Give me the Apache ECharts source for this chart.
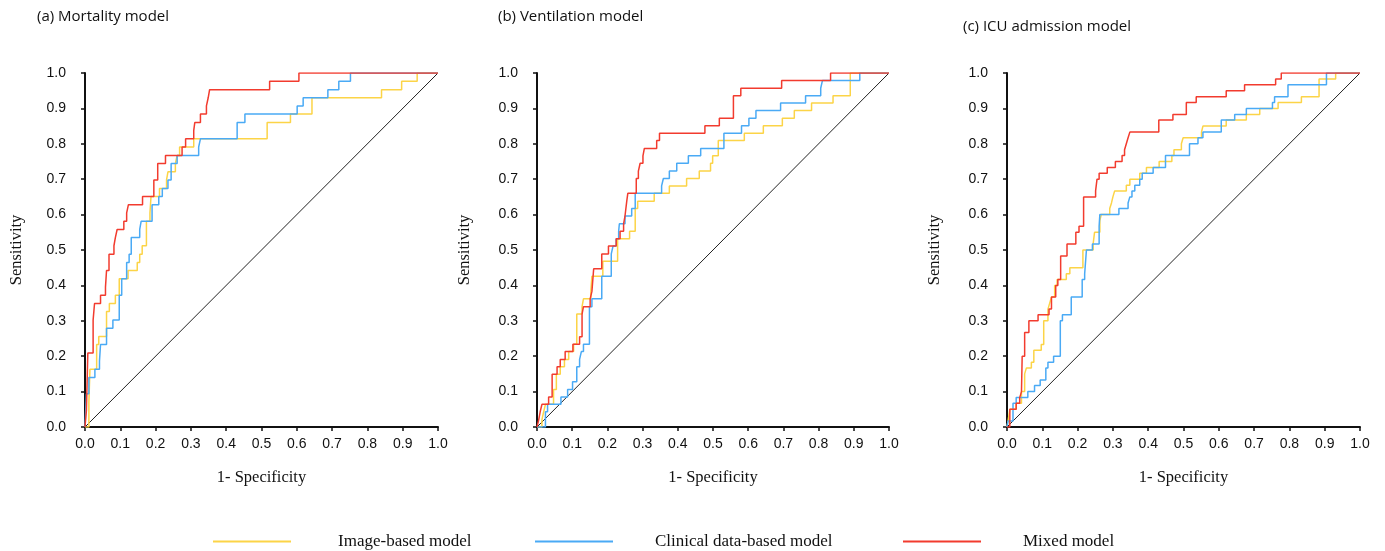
<!DOCTYPE html>
<html>
<head>
<meta charset="utf-8">
<script src="https://cdn.jsdelivr.net/npm/echarts@6/dist/echarts.min.js"></script>
<style>
html,body{margin:0;padding:0;background:#fff;}
#chart{width:1385px;height:551px;}
</style>
</head>
<body>
<div id="chart"></div>
<script>
// ---- data ----
const panelTitles = ['(a) Mortality model', '(b) Ventilation model', '(c) ICU admission model'];
const seriesNames = ['Image-based model', 'Clinical data-based model', 'Mixed model'];
const tickLabels = ['0.0','0.1','0.2','0.3','0.4','0.5','0.6','0.7','0.8','0.9','1.0'];
const xAxisName = '1- Specificity';
const yAxisName = 'Sensitivity';

// (a) Mortality: points = [1-specificity, sensitivity after rise]
const mortImage = [[0,0],[0.011,0.07],[0.014,0.163],[0.033,0.233],[0.039,0.256],[0.061,0.326],[0.069,0.349],[0.086,0.372],[0.097,0.419],[0.122,0.442],[0.148,0.465],[0.155,0.488],[0.162,0.512],[0.174,0.581],[0.184,0.605],[0.187,0.651],[0.211,0.674],[0.231,0.698],[0.235,0.721],[0.256,0.744],[0.261,0.767],[0.268,0.791],[0.308,0.814],[0.516,0.86],[0.582,0.884],[0.643,0.93],[0.84,0.953],[0.897,0.977],[0.941,1],[1,1]];
const mortClinical = [[0,0],[0.004,0.094],[0.011,0.14],[0.028,0.163],[0.041,0.186],[0.044,0.233],[0.061,0.279],[0.079,0.302],[0.097,0.372],[0.104,0.419],[0.118,0.465],[0.125,0.488],[0.131,0.535],[0.155,0.558],[0.159,0.581],[0.19,0.628],[0.209,0.651],[0.219,0.674],[0.235,0.698],[0.244,0.744],[0.261,0.767],[0.322,0.791],[0.327,0.814],[0.431,0.86],[0.453,0.884],[0.601,0.907],[0.618,0.93],[0.688,0.953],[0.719,0.977],[0.752,1],[1,1]];
const mortMixed = [[0,0],[0.004,0.047],[0.008,0.209],[0.023,0.302],[0.027,0.349],[0.044,0.372],[0.058,0.395],[0.061,0.442],[0.068,0.488],[0.082,0.512],[0.086,0.535],[0.091,0.558],[0.11,0.581],[0.118,0.605],[0.123,0.628],[0.163,0.651],[0.195,0.698],[0.206,0.744],[0.228,0.767],[0.275,0.791],[0.285,0.814],[0.308,0.837],[0.311,0.86],[0.327,0.884],[0.344,0.907],[0.349,0.93],[0.353,0.953],[0.523,0.977],[0.606,1],[1,1]];

// (b) Ventilation
const ventImage = [[0,0],[0.014,0.021],[0.019,0.043],[0.024,0.064],[0.047,0.106],[0.055,0.149],[0.066,0.17],[0.078,0.191],[0.09,0.213],[0.104,0.234],[0.113,0.319],[0.128,0.34],[0.132,0.362],[0.153,0.383],[0.156,0.426],[0.187,0.468],[0.229,0.532],[0.263,0.553],[0.279,0.617],[0.286,0.638],[0.333,0.66],[0.376,0.681],[0.425,0.702],[0.461,0.723],[0.493,0.745],[0.499,0.766],[0.515,0.809],[0.589,0.83],[0.643,0.851],[0.697,0.872],[0.731,0.894],[0.78,0.915],[0.841,0.936],[0.89,1],[1,1]];
const ventClinical = [[0,0],[0.024,0.043],[0.03,0.064],[0.068,0.085],[0.087,0.106],[0.101,0.128],[0.113,0.17],[0.121,0.191],[0.126,0.213],[0.132,0.234],[0.149,0.34],[0.156,0.362],[0.184,0.426],[0.211,0.489],[0.216,0.511],[0.225,0.532],[0.232,0.553],[0.234,0.574],[0.25,0.596],[0.269,0.617],[0.279,0.66],[0.354,0.681],[0.359,0.702],[0.376,0.723],[0.397,0.745],[0.43,0.766],[0.465,0.787],[0.531,0.83],[0.581,0.851],[0.602,0.872],[0.622,0.894],[0.692,0.915],[0.763,0.936],[0.806,0.957],[0.811,0.979],[0.917,1],[1,1]];
const ventMixed = [[0,0],[0.005,0.021],[0.009,0.043],[0.014,0.064],[0.033,0.085],[0.043,0.149],[0.057,0.17],[0.066,0.191],[0.08,0.213],[0.102,0.234],[0.121,0.255],[0.128,0.319],[0.132,0.34],[0.151,0.362],[0.156,0.383],[0.161,0.447],[0.184,0.489],[0.203,0.511],[0.225,0.532],[0.236,0.553],[0.246,0.574],[0.25,0.596],[0.255,0.638],[0.258,0.66],[0.282,0.702],[0.288,0.723],[0.293,0.745],[0.301,0.766],[0.305,0.787],[0.34,0.809],[0.348,0.83],[0.477,0.851],[0.518,0.872],[0.558,0.936],[0.579,0.957],[0.695,0.979],[0.834,1],[1,1]];

// (c) ICU admission
const icuImage = [[0,0],[0.003,0.017],[0.008,0.05],[0.026,0.067],[0.041,0.1],[0.05,0.15],[0.055,0.167],[0.069,0.183],[0.076,0.217],[0.097,0.233],[0.104,0.3],[0.116,0.333],[0.121,0.35],[0.126,0.367],[0.135,0.4],[0.142,0.417],[0.168,0.433],[0.178,0.45],[0.215,0.5],[0.244,0.517],[0.248,0.55],[0.263,0.583],[0.267,0.6],[0.291,0.617],[0.296,0.633],[0.3,0.65],[0.305,0.667],[0.338,0.683],[0.348,0.7],[0.376,0.717],[0.395,0.733],[0.431,0.75],[0.467,0.767],[0.473,0.783],[0.494,0.8],[0.499,0.817],[0.551,0.833],[0.555,0.85],[0.621,0.867],[0.678,0.883],[0.716,0.9],[0.768,0.917],[0.834,0.933],[0.884,0.983],[0.931,1],[1,1]];
const icuClinical = [[0,0],[0.003,0.017],[0.017,0.067],[0.026,0.083],[0.059,0.1],[0.078,0.117],[0.094,0.133],[0.11,0.167],[0.116,0.183],[0.132,0.2],[0.151,0.3],[0.157,0.317],[0.182,0.367],[0.213,0.417],[0.22,0.433],[0.225,0.5],[0.242,0.517],[0.261,0.567],[0.263,0.6],[0.317,0.617],[0.343,0.633],[0.348,0.65],[0.354,0.667],[0.362,0.683],[0.376,0.7],[0.383,0.717],[0.414,0.733],[0.449,0.767],[0.517,0.8],[0.541,0.817],[0.555,0.833],[0.607,0.867],[0.645,0.883],[0.678,0.9],[0.752,0.917],[0.758,0.933],[0.796,0.967],[0.905,1],[1,1]];
const icuMixed = [[0,0],[0.008,0.05],[0.026,0.067],[0.036,0.083],[0.041,0.1],[0.043,0.2],[0.05,0.267],[0.062,0.3],[0.088,0.317],[0.119,0.333],[0.126,0.367],[0.138,0.4],[0.144,0.417],[0.152,0.483],[0.17,0.517],[0.195,0.55],[0.204,0.567],[0.217,0.65],[0.251,0.667],[0.255,0.7],[0.261,0.717],[0.284,0.733],[0.307,0.75],[0.326,0.767],[0.333,0.783],[0.338,0.8],[0.343,0.817],[0.348,0.833],[0.43,0.867],[0.47,0.883],[0.508,0.917],[0.536,0.933],[0.621,0.95],[0.673,0.967],[0.761,0.983],[0.777,1],[1,1]];

const diagonal = [[0,0],[1,1]];

// ---- layout / style ----
const colors = ['#fcd447', '#4aaaf5', '#f23b2e'];
const grids = [
  {left: 85, top: 73, width: 353, height: 354},
  {left: 537, top: 73, width: 352, height: 354},
  {left: 1007, top: 73, width: 353, height: 354}
];
const titlePos = [{left: 37, top: 9}, {left: 498, top: 9}, {left: 963, top: 19}];
const yNameGap = [60, 64, 64];
const panelData = [
  [mortImage, mortClinical, mortMixed],
  [ventImage, ventClinical, ventMixed],
  [icuImage, icuClinical, icuMixed]
];

const labelFmt = v => tickLabels[Math.round(v * 10)];
const axisCommon = {
  type: 'value', min: 0, max: 1, interval: 0.1,
  axisLine: {show: true, onZero: false, lineStyle: {color: '#111', width: 2}},
  axisTick: {show: true, length: 4, inside: false, lineStyle: {color: '#111', width: 1.5}},
  splitLine: {show: false},
  axisLabel: {formatter: labelFmt, color: '#111', fontFamily: 'Liberation Sans', fontSize: 14},
  nameLocation: 'middle',
  nameTextStyle: {fontFamily: 'Liberation Serif', fontSize: 16.5, color: '#111'}
};

const xAxes = [], yAxes = [], series = [], titles = [];
grids.forEach((g, i) => {
  xAxes.push(Object.assign({}, axisCommon, {
    gridIndex: i, name: xAxisName, nameGap: 42,
    axisLabel: Object.assign({}, axisCommon.axisLabel, {margin: 10})
  }));
  yAxes.push(Object.assign({}, axisCommon, {
    gridIndex: i, name: yAxisName, nameGap: yNameGap[i],
    axisLabel: Object.assign({}, axisCommon.axisLabel, {margin: 19})
  }));
  titles.push({
    text: panelTitles[i], left: titlePos[i].left, top: titlePos[i].top, padding: 0,
    textStyle: {fontFamily: 'Open Sans', fontSize: 15, fontWeight: 'normal', color: '#111'}
  });
  series.push({
    type: 'line', xAxisIndex: i, yAxisIndex: i, data: diagonal,
    symbol: 'none', silent: true, lineStyle: {color: '#222', width: 1}, z: 1
  });
  panelData[i].forEach((d, k) => {
    series.push({
      name: seriesNames[k], type: 'line', xAxisIndex: i, yAxisIndex: i,
      data: d, step: 'end', symbol: 'none', showSymbol: false,
      lineStyle: {color: colors[k], width: 1.5}, itemStyle: {color: colors[k]},
      z: 2 + k
    });
  });
});

const legendLeft = [213, 535, 903];
const legendTextPad = [42, 37, 37];
const legends = seriesNames.map((n, k) => ({
  data: [n], left: legendLeft[k], top: 533, itemWidth: 78, itemHeight: 2, itemGap: 0,
  icon: 'rect', padding: 0, selectedMode: false,
  itemStyle: {color: colors[k]},
  textStyle: {fontFamily: 'Liberation Serif', fontSize: 17, color: '#111', padding: [0, 0, 0, legendTextPad[k]]}
}));

const chart = echarts.init(document.getElementById('chart'), null, {renderer: 'canvas'});
chart.setOption({
  animation: false,
  backgroundColor: '#fff',
  title: titles,
  legend: legends,
  grid: grids,
  xAxis: xAxes,
  yAxis: yAxes,
  series: series
});
</script>
</body>
</html>
